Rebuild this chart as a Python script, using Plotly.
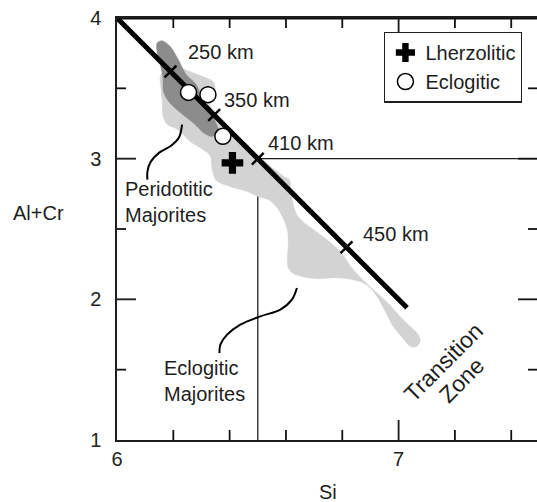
import plotly.graph_objects as go

FONT = "Liberation Sans, Arial, Helvetica, sans-serif"
INK = "#1e1e1e"

# ---- data -------------------------------------------------------------
# Peridotitic majorite field (Si, Al+Cr)
peridotitic_si = [6.142, 6.160, 6.189, 6.218, 6.246, 6.280, 6.306, 6.337, 6.349,
                  6.361, 6.337, 6.308, 6.278, 6.249, 6.213, 6.183, 6.165, 6.163,
                  6.154, 6.142]
peridotitic_alcr = [3.822, 3.839, 3.798, 3.704, 3.597, 3.530, 3.419, 3.325, 3.265,
                    3.194, 3.158, 3.183, 3.242, 3.289, 3.348, 3.407, 3.478, 3.574,
                    3.668, 3.763]

# Eclogitic majorite field (Si, Al+Cr)
eclogitic_si = [6.154, 6.189, 6.260, 6.306, 6.342, 6.349, 6.331, 6.385, 6.473,
                6.594, 6.612, 6.619, 6.626, 6.640, 6.669, 6.708, 6.750, 6.793,
                6.839, 6.899, 6.960, 7.006, 7.042, 7.070, 7.077, 7.063, 7.042,
                7.013, 6.981, 6.953, 6.924, 6.899, 6.864, 6.818, 6.768, 6.722,
                6.676, 6.626, 6.608, 6.605, 6.608, 6.605, 6.587, 6.566, 6.537,
                6.502, 6.463, 6.402, 6.353, 6.338, 6.331, 6.296, 6.260, 6.235,
                6.211, 6.179, 6.164, 6.161, 6.157]
eclogitic_alcr = [3.590, 3.661, 3.618, 3.583, 3.547, 3.476, 3.377, 3.249, 3.064,
                  2.872, 2.851, 2.758, 2.673, 2.595, 2.538, 2.481, 2.417, 2.339,
                  2.211, 2.090, 1.977, 1.877, 1.806, 1.749, 1.699, 1.664, 1.664,
                  1.728, 1.806, 1.913, 2.019, 2.083, 2.126, 2.147, 2.154, 2.147,
                  2.154, 2.183, 2.225, 2.296, 2.389, 2.495, 2.588, 2.659, 2.709,
                  2.730, 2.766, 2.801, 2.844, 2.922, 3.021, 3.078, 3.121, 3.171,
                  3.213, 3.242, 3.299, 3.391, 3.490]

# Depth trend line and depth markers along it
trend_si = [6.0, 7.03]
trend_alcr = [4.0, 1.94]
depth_labels = ["250 km", "350 km", "410 km", "450 km"]
depth_si = [6.19, 6.345, 6.5, 6.815]
depth_alcr = [3.62, 3.31, 3.0, 2.37]

# Transition-zone boundary (Si = 6.5 / Al+Cr = 3)
tz_si = [6.5, 6.5, 7.6]
tz_alcr = [1.0, 3.0, 3.0]

# Inclusions
lherzolitic_si = [6.41]
lherzolitic_alcr = [2.97]
eclogitic_incl_si = [6.254, 6.323, 6.376]
eclogitic_incl_alcr = [3.471, 3.455, 3.159]

# Leader curves for the field labels
peri_leader_si = [6.231, 6.220, 6.192, 6.150, 6.120, 6.108, 6.108]
peri_leader_alcr = [3.242, 3.150, 3.092, 3.043, 2.979, 2.908, 2.851]
eclo_leader_si = [6.639, 6.621, 6.580, 6.509, 6.438, 6.391, 6.367, 6.364]
eclo_leader_alcr = [2.081, 1.998, 1.927, 1.879, 1.820, 1.749, 1.678, 1.619]

# Frame tick positions
si_major_ticks = [7]
si_minor_ticks = [6.2, 6.4, 6.6, 6.8, 7.2, 7.4]
alcr_major_ticks = [2, 3]
alcr_minor_ticks = [1.5, 2.5, 3.5]

# axis ranges and plot-area size (px)
SI_RANGE = [6, 7.4915]
ALCR_RANGE = [1, 4]
PW, PH = 420, 422
px_si = (SI_RANGE[1] - SI_RANGE[0]) / PW      # Si units per pixel
px_al = (ALCR_RANGE[1] - ALCR_RANGE[0]) / PH  # Al+Cr units per pixel

# ---- figure -----------------------------------------------------------
fig = go.Figure()

fig.add_trace(go.Scatter(x=tz_si, y=tz_alcr, mode="lines",
                         line=dict(color=INK, width=1.3),
                         showlegend=False, hoverinfo="skip"))

fig.add_trace(go.Scatter(x=eclogitic_si + eclogitic_si[:1],
                         y=eclogitic_alcr + eclogitic_alcr[:1],
                         mode="lines", fill="toself", fillcolor="#d3d3d3",
                         line=dict(color="#d3d3d3", width=0.5, shape="spline",
                                   smoothing=0.8),
                         showlegend=False, hoverinfo="skip"))

fig.add_trace(go.Scatter(x=peridotitic_si + peridotitic_si[:1],
                         y=peridotitic_alcr + peridotitic_alcr[:1],
                         mode="lines", fill="toself", fillcolor="#8c8c8c",
                         line=dict(color="#8c8c8c", width=0.5, shape="spline",
                                   smoothing=0.8),
                         showlegend=False, hoverinfo="skip"))

fig.add_trace(go.Scatter(x=trend_si, y=trend_alcr, mode="lines",
                         line=dict(color="black", width=5),
                         showlegend=False, hoverinfo="skip"))

# short cross-ticks on the trend line (perpendicular on screen)
d_si, d_al = 0.021, 0.042
tx, ty = [], []
for s, a in zip(depth_si, depth_alcr):
    tx += [s - d_si, s + d_si, None]
    ty += [a - d_al, a + d_al, None]
fig.add_trace(go.Scatter(x=tx, y=ty, mode="lines",
                         line=dict(color="black", width=2.5),
                         showlegend=False, hoverinfo="skip"))

# frame: top edge plus inward tick marks on all four sides
fx, fy = [SI_RANGE[0], SI_RANGE[1], None], [ALCR_RANGE[1] - 0.5 * px_al] * 2 + [None]
for v, ln in [(v, 20) for v in si_major_ticks] + [(v, 10) for v in si_minor_ticks]:
    fx += [v, v, None, v, v, None]
    fy += [ALCR_RANGE[0], ALCR_RANGE[0] + ln * px_al, None,
           ALCR_RANGE[1], ALCR_RANGE[1] - ln * px_al, None]
for v, ln in [(v, 19) for v in alcr_major_ticks] + [(v, 9) for v in alcr_minor_ticks]:
    fx += [SI_RANGE[0], SI_RANGE[0] + ln * px_si, None,
           SI_RANGE[1], SI_RANGE[1] - ln * px_si, None]
    fy += [v, v, None, v, v, None]
fig.add_trace(go.Scatter(x=fx, y=fy, mode="lines",
                         line=dict(color="#111111", width=1.8, simplify=False),
                         showlegend=False, hoverinfo="skip"))

fig.add_trace(go.Scatter(x=lherzolitic_si, y=lherzolitic_alcr, mode="markers",
                         name="Lherzolitic",
                         marker=dict(symbol="cross", size=18, color="black",
                                     line=dict(width=0))))
fig.add_trace(go.Scatter(x=eclogitic_incl_si, y=eclogitic_incl_alcr,
                         mode="markers", name="Eclogitic",
                         marker=dict(symbol="circle", size=16, color="white",
                                     line=dict(color="black", width=1.5))))

leader_x = peri_leader_si + [None] + eclo_leader_si
leader_y = peri_leader_alcr + [None] + eclo_leader_alcr
fig.add_trace(go.Scatter(x=leader_x, y=leader_y, mode="lines",
                         line=dict(color="black", width=2, shape="spline"),
                         showlegend=False, hoverinfo="skip"))

# depth labels
label_shift = [(15, 19), (8, 15), (8, 16), (14, 13)]
annotations = []
for lab, s, a, (dx, dy) in zip(depth_labels, depth_si, depth_alcr, label_shift):
    annotations.append(dict(x=s, y=a, text=lab, showarrow=False,
                            xanchor="left", yanchor="middle",
                            xshift=dx, yshift=dy,
                            font=dict(size=20, color=INK, family=FONT)))

annotations += [
    dict(x=6.022, y=2.69, text="Peridotitic<br>Majorites", showarrow=False,
         xanchor="left", yanchor="middle", align="left",
         font=dict(size=20, color=INK, family=FONT)),
    dict(x=6.16, y=1.42, text="Eclogitic<br>Majorites", showarrow=False,
         xanchor="left", yanchor="middle", align="left",
         font=dict(size=20, color=INK, family=FONT)),
    dict(x=7.159, y=1.557, text="Transition", showarrow=False,
         textangle=-45, xanchor="center", yanchor="middle",
         font=dict(size=23, color=INK, family=FONT)),
    dict(x=7.223, y=1.429, text="Zone", showarrow=False,
         textangle=-45, xanchor="center", yanchor="middle",
         font=dict(size=23, color=INK, family=FONT)),
    dict(x=0.502, y=-0.123, xref="paper", yref="paper", text="Si",
         showarrow=False, xanchor="center", yanchor="middle",
         font=dict(size=20, color=INK, family=FONT)),
    dict(x=-0.186, y=0.538, xref="paper", yref="paper", text="Al+Cr",
         showarrow=False, xanchor="center", yanchor="middle",
         font=dict(size=20, color=INK, family=FONT)),
]

fig.update_layout(
    width=537, height=502,
    margin=dict(l=117, r=0, t=18, b=62),
    paper_bgcolor="white", plot_bgcolor="white",
    font=dict(family=FONT, color=INK, size=20),
    xaxis=dict(range=SI_RANGE, tick0=6, dtick=1,
               ticks="inside", ticklen=20, tickcolor=INK, tickwidth=1.3,
               showgrid=False, zeroline=False,
               showline=True, linecolor=INK, linewidth=1.5, mirror="ticks",
               tickfont=dict(size=20, color=INK, family=FONT)),
    yaxis=dict(range=ALCR_RANGE, tick0=1, dtick=1,
               ticks="inside", ticklen=19, tickcolor=INK, tickwidth=1.3,
               showgrid=False, zeroline=False,
               showline=True, linecolor=INK, linewidth=1.5, mirror=False,
               ticklabelstandoff=10,
               tickfont=dict(size=20, color=INK, family=FONT)),
    legend=dict(x=0.636, y=0.9675, xanchor="left", yanchor="top",
                bgcolor="white", bordercolor=INK, borderwidth=1.3,
                font=dict(size=20, color=INK, family=FONT),
                itemsizing="trace"),
    annotations=annotations,
)

fig.write_html("out.html")
